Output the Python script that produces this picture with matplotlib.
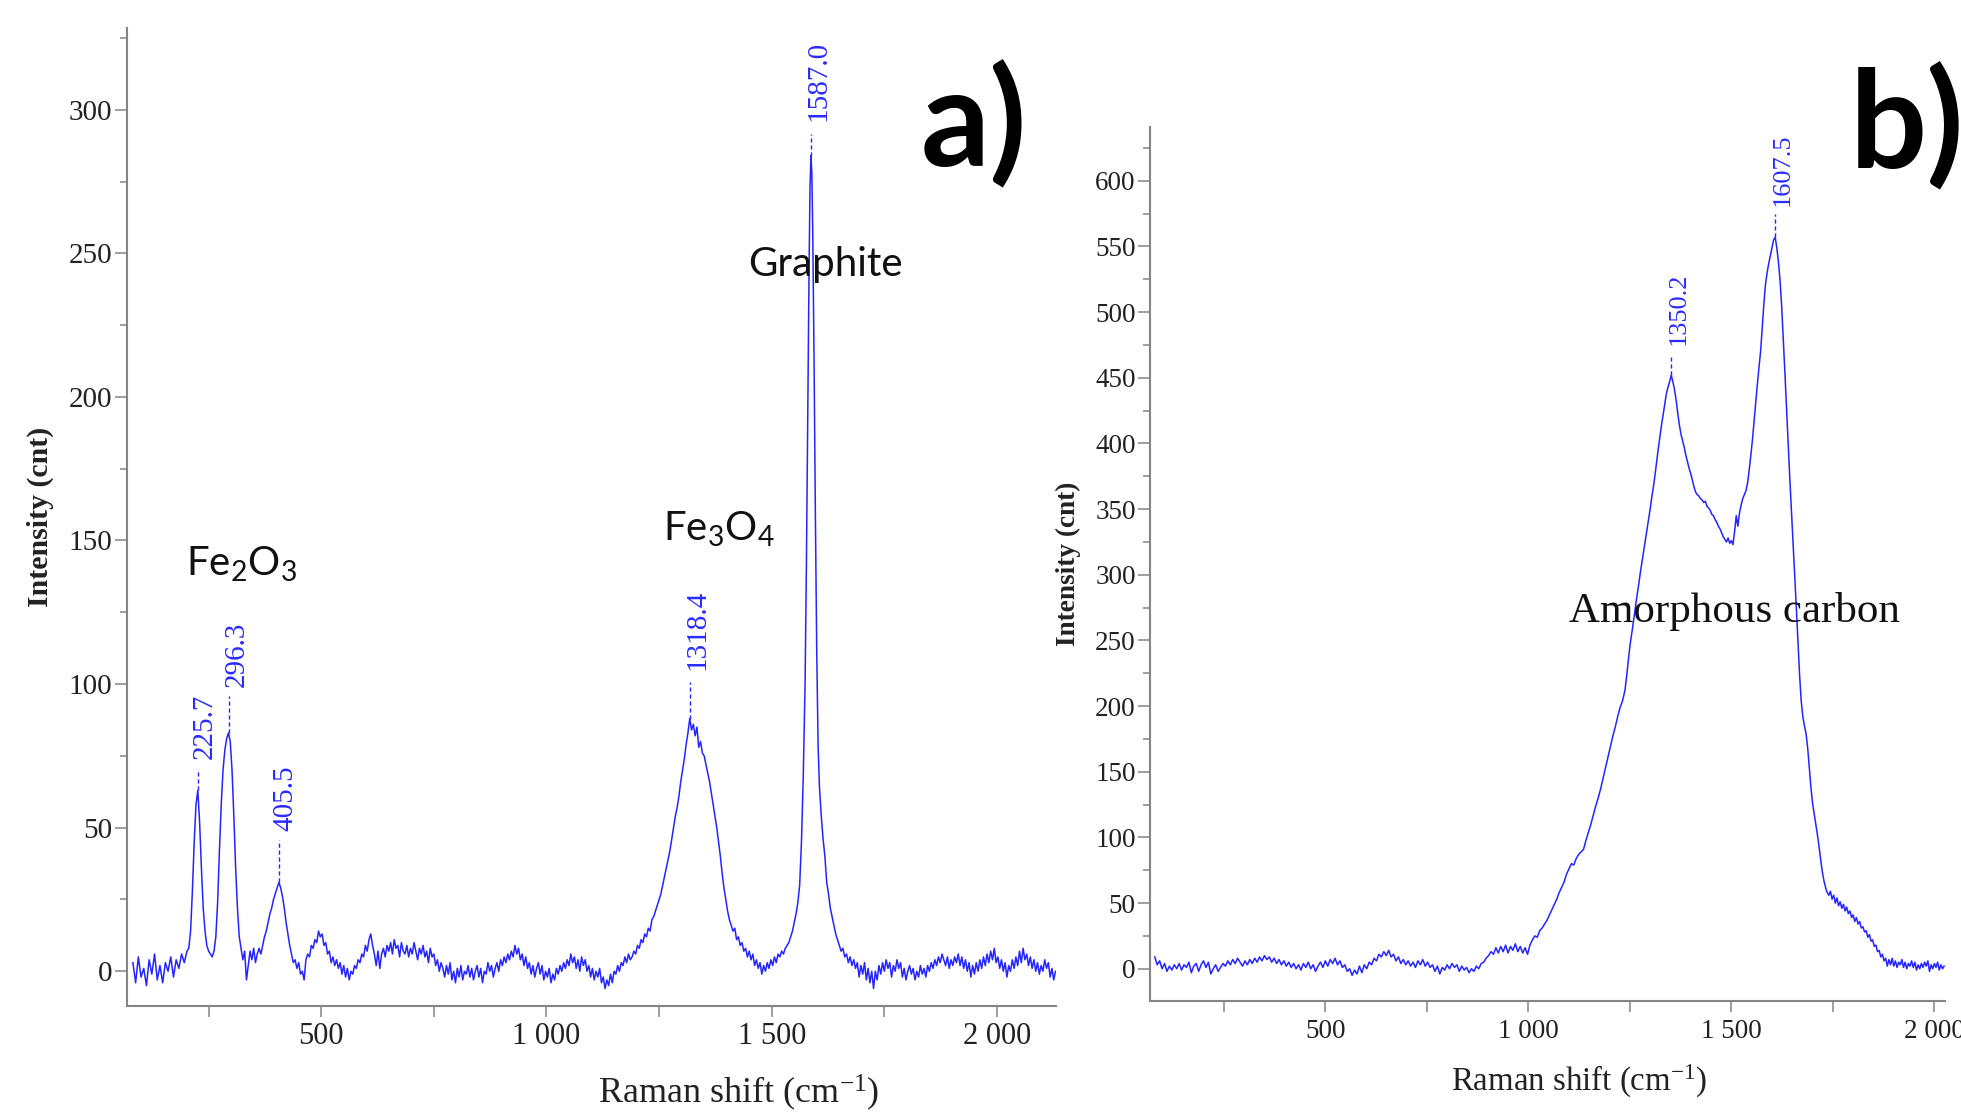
import matplotlib
matplotlib.use("Agg")
import matplotlib.pyplot as plt
from matplotlib.ticker import MultipleLocator, FuncFormatter

# ---------------- Panel a: Raman spectrum (Fe oxides + graphite) ----------------
shift_a = [
    82, 88, 94, 100, 106, 112, 118, 124, 130, 136, 142, 148, 154, 160, 166, 172, 178, 184, 190, 196, 202,
    206, 210, 214, 218, 222, 226, 230, 234, 238, 242, 246, 250, 254, 258, 262, 266, 270, 274, 278, 282, 286, 290, 294, 298, 302,
    306, 310, 314, 318, 322, 326, 330, 334, 338, 342, 346, 350, 354, 358, 362, 366, 370, 374, 378, 382, 386, 390, 394, 398, 402,
    406, 410, 414, 418, 422, 426, 430, 434, 438, 442, 446, 450, 454, 458, 462, 466, 470, 474, 478, 482, 486, 490, 494, 498, 502,
    506, 510, 514, 518, 522, 526, 530, 534, 538, 542, 546, 550, 554, 558, 562, 566, 570, 574, 578, 582, 586, 590, 594, 598, 602,
    606, 610, 614, 618, 622, 626, 630, 634, 638, 642, 646, 650, 654, 658, 662, 666, 670, 674, 678, 682, 686, 690, 694, 698, 702,
    706, 710, 714, 718, 722, 726, 730, 734, 738, 742, 746, 750, 754, 758, 762, 766, 770, 774, 778, 782, 786, 790, 794, 798, 802,
    806, 810, 814, 818, 822, 826, 830, 834, 838, 842, 846, 850, 854, 858, 862, 866, 870, 874, 878, 882, 886, 890, 894, 898, 902,
    906, 910, 914, 918, 922, 926, 930, 934, 938, 942, 946, 950, 954, 958, 962, 966, 970, 974, 978, 982, 986, 990, 994, 998, 1002,
    1006, 1010, 1014, 1018, 1022, 1026, 1030, 1034, 1038, 1042, 1046, 1050, 1054, 1058, 1062, 1066, 1070, 1074, 1078, 1082, 1086, 1090, 1094, 1098, 1102,
    1106, 1110, 1114, 1118, 1122, 1126, 1130, 1134, 1138, 1142, 1146, 1150, 1154, 1158, 1162, 1166, 1170, 1174, 1178, 1182, 1186, 1190, 1194, 1198, 1202,
    1206, 1210, 1214, 1218, 1222, 1226, 1230, 1234, 1238, 1242, 1246, 1250, 1254, 1258, 1262, 1266, 1270, 1274, 1278, 1282, 1286, 1290, 1294, 1298, 1302,
    1306, 1310, 1314, 1318, 1322, 1326, 1330, 1334, 1338, 1342, 1346, 1350, 1354, 1358, 1362, 1366, 1370, 1374, 1378, 1382, 1386, 1390, 1394, 1398, 1402,
    1406, 1410, 1414, 1418, 1422, 1426, 1430, 1434, 1438, 1442, 1446, 1450, 1454, 1458, 1462, 1466, 1470, 1474, 1478, 1482, 1486, 1490, 1494, 1498, 1502,
    1506, 1510, 1514, 1518, 1522, 1526, 1530, 1534, 1538, 1542, 1546, 1550, 1554, 1558, 1562, 1566, 1570, 1574,
    1577, 1580, 1583, 1585, 1587, 1589, 1591, 1594, 1597, 1600, 1603,
    1606, 1610, 1614, 1618, 1622, 1626, 1630, 1634, 1638, 1642, 1646, 1650, 1654, 1658, 1662, 1666, 1670, 1674, 1678, 1682, 1686, 1690, 1694, 1698, 1702,
    1706, 1710, 1714, 1718, 1722, 1726, 1730, 1734, 1738, 1742, 1746, 1750, 1754, 1758, 1762, 1766, 1770, 1774, 1778, 1782, 1786, 1790, 1794, 1798, 1802,
    1806, 1810, 1814, 1818, 1822, 1826, 1830, 1834, 1838, 1842, 1846, 1850, 1854, 1858, 1862, 1866, 1870, 1874, 1878, 1882, 1886, 1890, 1894, 1898, 1902,
    1906, 1910, 1914, 1918, 1922, 1926, 1930, 1934, 1938, 1942, 1946, 1950, 1954, 1958, 1962, 1966, 1970, 1974, 1978, 1982, 1986, 1990, 1994, 1998, 2002,
    2006, 2010, 2014, 2018, 2022, 2026, 2030, 2034, 2038, 2042, 2046, 2050, 2054, 2058, 2062, 2066, 2070, 2074, 2078, 2082, 2086, 2090, 2094, 2098, 2102,
    2106, 2110, 2114, 2118, 2122, 2126, 2130,
]
intensity_a = [
    3, -4, 5, -2, 1, -5, 4, -1, 6, -3, 2, -4, 3, 0, 5, -2, 4, 1, 6, 3, 7,
    8, 14, 28, 45, 58, 63, 52, 36, 22, 14, 9, 7, 6, 5, 7, 12, 24, 42, 58, 70, 77, 81, 83, 80, 70,
    54, 36, 22, 12, 8, 4, 7, -3, 2, 7, 4, 8, 3, 6, 8, 6, 9, 12, 14, 17, 20, 22, 25, 27, 29,
    31, 29, 26, 22, 17, 13, 9, 6, 3, 4, 1, 3, -1, 0, -3, 4, 6, 5, 9, 8, 11, 10, 14, 12, 13,
    9, 10, 6, 7, 3, 5, 2, 4, 1, 3, -1, 2, -2, 1, -3, 0, -1, 2, 1, 4, 3, 6, 5, 9, 7,
    11, 13, 9, 6, 2, 7, 1, 6, 8, 5, 9, 7, 10, 6, 11, 8, 9, 5, 10, 7, 6, 9, 5, 8, 6,
    10, 7, 4, 8, 6, 9, 5, 7, 3, 8, 5, 6, 2, 4, 0, 3, 1, -2, 2, -1, 3, -3, 0, -4, 1,
    -2, 2, -3, 0, -1, 2, -2, 1, -3, 0, 2, -2, 1, -4, 0, -1, 3, 0, 2, -2, 1, 3, 0, 4, 2,
    5, 3, 6, 4, 7, 5, 9, 6, 8, 4, 6, 2, 5, 1, 3, -1, 2, -2, 1, 3, -1, 2, -3, 0, -2,
    1, -4, -1, -3, 1, -1, 2, 0, 3, 1, 4, 2, 6, 3, 5, 1, 4, 0, 5, 2, 4, 0, 2, -2, 1,
    -3, 0, -2, 1, -4, -2, -6, -3, -5, -1, -4, 0, -1, 2, 0, 3, 2, 5, 3, 6, 4, 5, 7, 6, 9,
    8, 11, 10, 13, 12, 15, 14, 18, 19, 21, 23, 25, 27, 30, 33, 36, 39, 42, 46, 50, 54, 57, 61, 66, 70,
    74, 79, 83, 88, 84, 86, 82, 85, 78, 80, 76, 75, 72, 69, 66, 62, 58, 54, 50, 45, 40, 34, 29, 25, 21,
    18, 16, 14, 15, 11, 12, 9, 10, 7, 8, 5, 7, 4, 6, 2, 4, 1, 3, -1, 2, 0, 3, 1, 4, 2,
    5, 3, 6, 5, 7, 6, 8, 9, 10, 12, 14, 17, 20, 24, 30, 45, 68, 100,
    142, 195, 247, 273, 284, 278, 258, 212, 157, 110, 78,
    64, 54, 46, 40, 31, 27, 22, 19, 16, 13, 11, 9, 7, 8, 5, 6, 3, 5, 2, 4, 1, 3, -2, 2, -1,
    3, -3, 1, -4, 0, -6, 0, -3, 2, -1, 3, 0, 4, 1, 3, -2, 2, 0, 4, 1, 3, -2, 1, -3, 0,
    2, -1, 1, -3, 0, -2, 2, -1, 1, -2, 2, 0, 3, 1, 4, 2, 5, 3, 6, 4, 2, 5, 1, 4, 2,
    5, 3, 6, 2, 5, 1, 4, 0, 3, -2, 2, -1, 3, 0, 4, 1, 5, 2, 6, 3, 7, 4, 8, 3, 5,
    1, 4, 0, 3, -2, 2, 0, 4, 1, 5, 2, 7, 3, 8, 4, 6, 2, 5, 1, 4, 0, 3, -1, 2, 0,
    4, 1, 3, -2, 1, -3, 0,
]
peaks_a = [225.7, 296.3, 405.5, 1318.4, 1587.0]
peak_curve_a = [63, 83, 31, 88, 284]
peak_marker_a = [70.6, 96, 45.7, 100.7, 291.6]
peak_label_y_a = [74, 99, 49, 105, 296]
phase_labels_a = [r"Fe$_2$O$_3$", r"Fe$_3$O$_4$", "Graphite"]
phase_x_a = [200, 1258, 1447]
phase_y_a = [137.8, 150, 242]

# ---------------- Panel b: Raman spectrum (amorphous carbon) ----------------
shift_b = [
    80, 86, 92, 98, 104, 110, 116, 122, 128, 134, 140, 146, 152, 158, 164, 170, 176, 182, 188, 194,
    200, 206, 212, 218, 224, 230, 236, 242, 248, 254, 260, 266, 272, 278, 284, 290, 296, 302, 308, 314,
    320, 326, 332, 338, 344, 350, 356, 362, 368, 374, 380, 386, 392, 398, 404, 410, 416, 422, 428, 434,
    440, 446, 452, 458, 464, 470, 476, 482, 488, 494, 500, 506, 512, 518, 524, 530, 536, 542, 548, 554,
    560, 566, 572, 578, 584, 590, 596, 602, 608, 614, 620, 626, 632, 638, 644, 650, 656, 662, 668, 674,
    680, 686, 692, 698, 704, 710, 716, 722, 728, 734, 740, 746, 752, 758, 764, 770, 776, 782, 788, 794,
    800, 806, 812, 818, 824, 830, 836, 842, 848, 854, 860, 866, 872, 878,
    884, 890, 896, 902, 908, 914, 920, 926, 932, 938, 944, 950, 956, 962, 968, 974, 980, 986, 992, 998,
    1004, 1010, 1016, 1022, 1028, 1034, 1040, 1046, 1052, 1058, 1064, 1070, 1076, 1082, 1088, 1094, 1100, 1106, 1112, 1118,
    1124, 1130, 1136, 1142, 1148, 1154, 1160, 1166, 1172, 1178, 1184, 1190, 1196, 1202, 1208, 1214, 1220, 1226, 1232, 1238, 1244,
    1248, 1252, 1256, 1260, 1264, 1268, 1272, 1276, 1280, 1284, 1288, 1292, 1296, 1300, 1304, 1308, 1312, 1316, 1320, 1324, 1328, 1332, 1336, 1340, 1344,
    1348, 1352, 1356, 1360, 1364, 1368, 1372, 1376, 1380, 1384, 1388, 1392, 1396, 1400, 1404, 1408, 1412, 1416, 1420, 1424, 1428, 1432, 1436, 1440, 1444,
    1448, 1452, 1456, 1460, 1464, 1468, 1472, 1476, 1480, 1484, 1488, 1492, 1496, 1500, 1504, 1508, 1512, 1516, 1520, 1524, 1528, 1532, 1536, 1540, 1544,
    1548, 1552, 1556, 1560, 1564, 1568, 1572, 1576, 1580, 1584, 1588, 1592, 1596, 1600, 1604, 1608, 1612, 1616, 1620, 1624, 1628, 1632, 1636, 1640, 1644,
    1648, 1652, 1656, 1660, 1664, 1668, 1672, 1676, 1680, 1684, 1688, 1692, 1696, 1700, 1704, 1708, 1712, 1716, 1720, 1724, 1728, 1732, 1736, 1740, 1744,
    1748, 1752, 1756, 1760, 1764, 1768, 1772, 1776, 1780, 1784, 1788, 1792, 1796, 1800, 1804, 1808, 1812, 1816, 1820, 1824, 1828, 1832, 1836, 1840, 1844,
    1848, 1852, 1856, 1860, 1864, 1868, 1872, 1876, 1880, 1884, 1888, 1892, 1896, 1900, 1904, 1908, 1912, 1916, 1920, 1924, 1928, 1932, 1936, 1940, 1944,
    1948, 1952, 1956, 1960, 1964, 1968, 1972, 1976, 1980, 1984, 1988, 1992, 1996, 2000, 2004, 2008, 2012, 2016, 2020, 2024,
]
intensity_b = [
    9, 3, 6, 0, 4, -2, 2, -1, 3, 0, 4, -1, 3, 1, 5, -3, 2, 4, -2, 3,
    6, 1, 5, -4, 0, 3, -2, 1, 4, 2, 6, 3, 7, 4, 8, 5, 2, 6, 3, 7,
    4, 8, 5, 9, 6, 10, 7, 9, 5, 8, 4, 7, 3, 6, 2, 5, 1, 4, 0, 3,
    -1, 4, 1, 5, 0, 3, -2, 2, 5, 1, 6, 2, 7, 4, 8, 3, 6, 1, 3, -2,
    0, -5, -1, -4, 2, -3, 3, 0, 5, 3, 8, 6, 11, 9, 13, 10, 14, 9, 11, 6,
    9, 4, 7, 3, 6, 2, 5, 1, 6, 3, 7, 2, 5, 1, 3, -2, 2, -4, 1, -1,
    3, 0, 4, 1, 3, -2, 2, -1, 1, -3, 0, -2, 2, 0,
    4, 5, 8, 10, 13, 11, 16, 12, 17, 13, 18, 12, 17, 14, 19, 13, 17, 12, 16, 11,
    18, 22, 25, 24, 29, 31, 34, 37, 41, 45, 49, 53, 58, 62, 66, 72, 76, 80, 79, 84,
    87, 89, 91, 98, 104, 110, 117, 124, 130, 137, 145, 153, 161, 169, 177, 184, 192, 199, 204, 212, 228,
    240, 250, 258, 267, 276, 285, 293, 302, 310, 318, 326, 334, 342, 350, 359, 367, 376, 386, 396, 405, 414, 422, 430, 438, 443,
    447, 452, 447, 441, 433, 423, 414, 407, 402, 397, 391, 386, 381, 377, 372, 367, 363, 361, 360, 358, 357, 355, 356, 352, 351,
    349, 346, 345, 342, 340, 337, 335, 332, 329, 327, 325, 328, 324, 326, 323, 333, 345, 337, 347, 353, 358, 361, 364, 370, 380,
    391, 403, 417, 431, 445, 458, 470, 488, 506, 521, 530, 537, 543, 549, 555, 557, 549, 538, 524, 504, 479, 453, 426, 398, 373,
    348, 324, 300, 275, 249, 224, 204, 192, 185, 179, 168, 153, 138, 126, 118, 110, 102, 93, 83, 74, 67, 62, 58, 56, 59,
    53, 56, 50, 54, 48, 51, 46, 49, 44, 47, 42, 44, 39, 41, 36, 39, 34, 36, 31, 32, 28, 29, 24, 26, 21,
    22, 17, 18, 13, 14, 9, 11, 6, 8, 2, 7, 3, 8, 2, 6, 1, 5, 3, 7, 1, 5, 0, 4, 2, 6,
    1, 5, -1, 3, 0, 4, 1, 5, 2, 6, -2, 3, 0, 4, 1, 5, -1, 3, 0, 2,
]
peaks_b = [1350.2, 1607.5]
peak_curve_b = [452, 557]
peak_marker_b = [466, 575]
peak_label_y_b = [475, 581]
phase_labels_b = ["Amorphous carbon"]
phase_x_b = [1100]
phase_y_b = [264]

assert len(shift_a) == len(intensity_a)
assert len(shift_b) == len(intensity_b)

# ---------------- styling ----------------
plt.rcParams["font.family"] = ["Liberation Serif", "DejaVu Serif"]
plt.rcParams["mathtext.default"] = "regular"

LINE_BLUE = "#2424ff"
LABEL_BLUE = "#2a2aff"
SPINE_GRAY = "#858585"
TEXT_DARK = "#222222"


def thousands(v, pos):
    return f"{int(round(v)):,}".replace(",", " ")


fig = plt.figure(figsize=(19.61, 11.15), dpi=100)
ax_a = fig.add_axes([0.0648, 0.098, 0.4737, 0.877])
ax_b = fig.add_axes([0.5866, 0.1022, 0.4050, 0.7839])


def style_axes(ax, xlim, ylim, ytick_size, xtick_size, ylab_size, xlab_size,
               ylab_x, xlab_xy, xpad):
    ax.set_xlim(*xlim)
    ax.set_ylim(*ylim)
    for side in ("top", "right"):
        ax.spines[side].set_visible(False)
    for side in ("left", "bottom"):
        ax.spines[side].set_color(SPINE_GRAY)
        ax.spines[side].set_linewidth(1.5)
    ax.xaxis.set_major_locator(MultipleLocator(500))
    ax.xaxis.set_minor_locator(MultipleLocator(250))
    ax.yaxis.set_major_locator(MultipleLocator(50))
    ax.yaxis.set_minor_locator(MultipleLocator(25))
    ax.xaxis.set_major_formatter(FuncFormatter(thousands))
    ax.tick_params(axis="both", which="both", direction="out",
                   color=SPINE_GRAY, width=1.1, labelcolor=TEXT_DARK)
    ax.tick_params(axis="y", which="major", length=8.5, pad=2, labelsize=ytick_size)
    ax.tick_params(axis="y", which="minor", length=5)
    ax.tick_params(axis="x", which="both", length=8, pad=xpad, labelsize=xtick_size)
    ax.set_ylabel("Intensity (cnt)", fontsize=ylab_size, fontweight="bold",
                  color=TEXT_DARK)
    ax.yaxis.set_label_coords(ylab_x, 0.5)
    ax.yaxis.label.set_va("center")
    ax.set_xlabel(r"Raman shift (cm$^{-1}$)", fontsize=xlab_size, color=TEXT_DARK)
    ax.xaxis.set_label_coords(*xlab_xy)
    ax.xaxis.label.set_va("center")


style_axes(ax_a, (69, 2131), (-12, 328.5), 21, 22, 21.5, 26,
           -0.0938, (0.6587, -0.0893), 4)
style_axes(ax_b, (69, 2025), (-24.6, 641), 19.5, 19.5, 19.6, 23.7,
           -0.1025, (0.5398, -0.0915), 5)

# spectra
ax_a.plot(shift_a, intensity_a, color=LINE_BLUE, lw=1.1)
ax_b.plot(shift_b, intensity_b, color=LINE_BLUE, lw=1.1)

# peak markers and labels
for ax, peaks, curve, marker, laby, dx, fs in (
        (ax_a, peaks_a, peak_curve_a, peak_marker_a, peak_label_y_a, 16, 21),
        (ax_b, peaks_b, peak_curve_b, peak_marker_b, peak_label_y_b, 20, 19)):
    for p, c, m, ly in zip(peaks, curve, marker, laby):
        ax.plot([p, p], [c, m], color=LINE_BLUE, lw=1.0, ls=(0, (3, 2)))
        ax.text(p + dx, ly, f"{p:.1f}", rotation=90, ha="center", va="bottom",
                color=LABEL_BLUE, fontsize=fs, family="Liberation Serif")

# phase annotations
for lab, x, y in zip(phase_labels_a, phase_x_a, phase_y_a):
    ax_a.text(x, y, lab, ha="left", va="baseline", fontsize=29,
              family=["Lato", "DejaVu Sans"], color="#111111")
for lab, x, y in zip(phase_labels_b, phase_x_b, phase_y_b):
    ax_b.text(x, y, lab, ha="left", va="baseline", fontsize=31,
              family="Liberation Serif", color="#111111")

# panel letters
fig.text(921 / 1961, 1 - 166 / 1115, "a)", fontsize=98, fontweight="bold",
         family=["Lato", "DejaVu Sans"], ha="left", va="baseline", color="black")
fig.text(1850 / 1961, 1 - 168 / 1115, "b)", fontsize=98, fontweight="bold",
         family=["Lato", "DejaVu Sans"], ha="left", va="baseline", color="black")

fig.savefig("out.png", dpi=100, facecolor="white")
